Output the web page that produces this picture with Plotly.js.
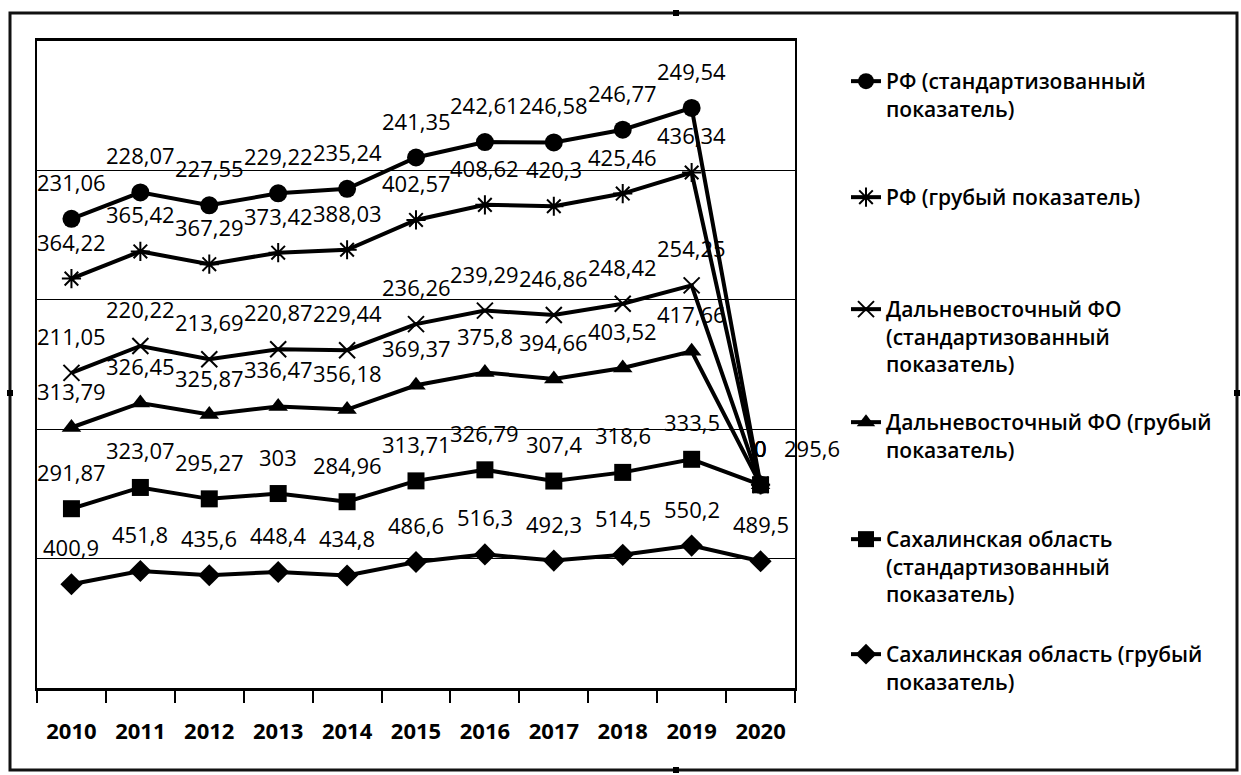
<!DOCTYPE html>
<html>
<head>
<meta charset="utf-8">
<script src="https://cdn.plot.ly/plotly-3.0.1.min.js"></script>
<style>html,body{margin:0;padding:0;background:#fff;}#chart{width:1241px;height:775px;}</style>
</head>
<body>
<div id="chart"></div>
<script>
const years = ['2010','2011','2012','2013','2014','2015','2016','2017','2018','2019','2020'];

const rfStd      = [231.06, 228.07, 227.55, 229.22, 235.24, 241.35, 242.61, 246.58, 246.77, 249.54, 0];
const rfCrude    = [364.22, 365.42, 367.29, 373.42, 388.03, 402.57, 408.62, 420.3, 425.46, 436.34, 0];
const dfoStd     = [211.05, 220.22, 213.69, 220.87, 229.44, 236.26, 239.29, 246.86, 248.42, 254.25, 0];
const dfoCrude   = [313.79, 326.45, 325.87, 336.47, 356.18, 369.37, 375.8, 394.66, 403.52, 417.66, 0];
const sakhStd    = [291.87, 323.07, 295.27, 303, 284.96, 313.71, 326.79, 307.4, 318.6, 333.5, 295.6];
const sakhCrude  = [400.9, 451.8, 435.6, 448.4, 434.8, 486.6, 516.3, 492.3, 514.5, 550.2, 489.5];

const seriesNames = [
  'Сахалинская область (грубый<br>показатель)',
  'Сахалинская область<br>(стандартизованный<br>показатель)',
  'Дальневосточный ФО (грубый<br>показатель)',
  'Дальневосточный ФО<br>(стандартизованный<br>показатель)',
  'РФ (грубый показатель)',
  'РФ (стандартизованный<br>показатель)'
];
const seriesData = [sakhCrude, sakhStd, dfoCrude, dfoStd, rfCrude, rfStd];

const markerStyles = [
  {symbol:'diamond', size:17, color:'#000'},
  {symbol:'square', size:17, color:'#000'},
  {symbol:'triangle-up', size:17, color:'#000'},
  {symbol:'x-thin-open', size:16, color:'#000', line:{width:2, color:'#000'}},
  {symbol:'asterisk-open', size:16, color:'#000', line:{width:2, color:'#000'}},
  {symbol:'circle', size:18, color:'#000'}
];
const legendIds = ['legend6','legend5','legend4','legend3','legend2','legend'];
const legendTextY = [650, 535, 418, 305, 193, 77];
const W = 1241, H = 775;

const traces = seriesData.map((d, i) => ({
  type: 'scatter',
  mode: 'lines+markers',
  x: years,
  y: d,
  name: seriesNames[i],
  stackgroup: 'one',
  fill: 'none',
  line: {color:'#000', width:4},
  marker: markerStyles[i],
  legend: legendIds[i],
  hoverinfo: 'skip'
}));

const annotations = [];
const cum = years.map(() => 0);
seriesData.forEach((d, i) => {
  d.forEach((v, j) => {
    cum[j] += v;
    const a = {
      x: j, y: cum[j], xref:'x', yref:'y',
      text: String(v).replace('.', ','),
      showarrow:false, yanchor:'middle', xanchor:'center', yshift:37,
      font:{family:'Open Sans', size:22, color:'#000'}
    };
    if (i === 1 && j === 10) a.xshift = 51;
    annotations.push(a);
  });
});

const layout = {
  width: W, height: H,
  margin: {l:37, r:W-795, t:41, b:H-688},
  paper_bgcolor:'#fff', plot_bgcolor:'#fff',
  font: {family:'Open Sans', color:'#000'},
  showlegend: true,
  xaxis: {
    type:'category',
    tickson:'boundaries',
    ticks:'outside', ticklen:12, tickwidth:2, tickcolor:'#000',
    ticklabelstandoff: 22,
    showline:true, linecolor:'#000', linewidth:3, mirror:true,
    showgrid:false, zeroline:false,
    tickfont:{family:'Open Sans', size:22, weight:700, color:'#000'},
    range:[-0.5, 10.5],
    fixedrange:true
  },
  yaxis: {
    range:[0, 2500], dtick:500,
    showgrid:true, gridcolor:'#000', gridwidth:1,
    showticklabels:false, ticks:'',
    showline:true, linecolor:'#000', linewidth:2, mirror:true,
    zeroline:false, fixedrange:true
  },
  annotations: annotations,
  shapes: [
    {type:'rect', xref:'paper', yref:'paper',
     x0:(10-37)/758, x1:(1237-37)/758, y0:(688-770)/647, y1:(688-13)/647,
     line:{color:'#111', width:3}, fillcolor:'rgba(0,0,0,0)'}
  ]
};

[[676,13],[10,393],[1237,393],[676,770]].forEach(p => {
  layout.shapes.push({type:'rect', xref:'paper', yref:'paper',
    x0:(p[0]-3-37)/758, x1:(p[0]+3-37)/758, y0:(688-p[1]-3)/647, y1:(688-p[1]+3)/647,
    line:{width:0}, fillcolor:'#000'});
});

legendIds.forEach((id, i) => {
  layout[id] = {
    xref:'container', yref:'container',
    x: 846/W, y: 1 - (legendTextY[i]-16)/H,
    xanchor:'left', yanchor:'top',
    valign:'top',
    bgcolor:'rgba(0,0,0,0)', borderwidth:0,
    font:{family:'Open Sans', size:21, weight:600, color:'#000'},
    itemclick:false, itemdoubleclick:false
  };
});

Plotly.newPlot('chart', traces, layout, {displayModeBar:false});
</script>
</body>
</html>
